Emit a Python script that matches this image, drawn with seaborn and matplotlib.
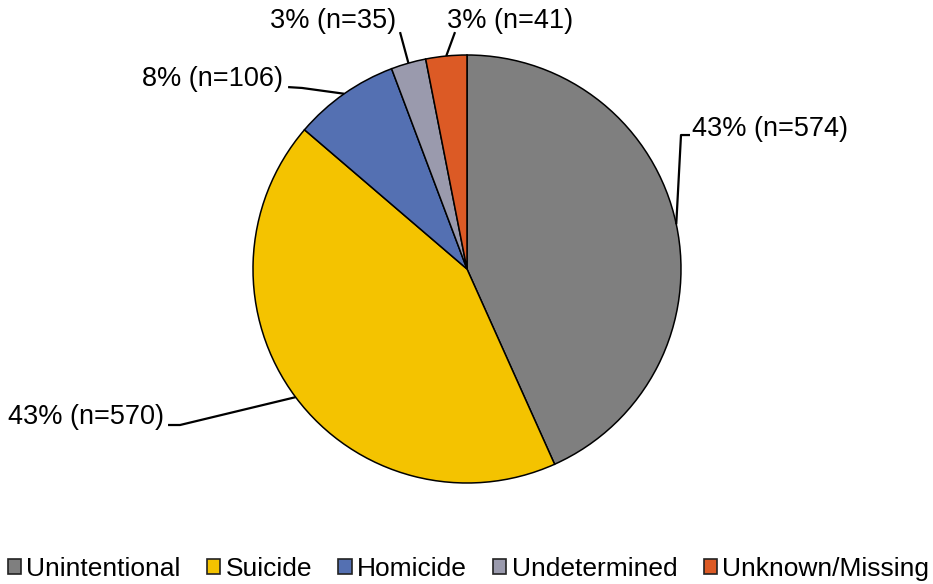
import matplotlib
matplotlib.use('Agg')
import matplotlib.pyplot as plt
from matplotlib.patches import Patch
import numpy as np
import seaborn as sns

categories = ['Unintentional', 'Suicide', 'Homicide', 'Undetermined', 'Unknown/Missing']
counts = [574, 570, 106, 35, 41]
colors = ['#7f7f7f', '#f4c300', '#5470b2', '#9a9aad', '#dc5a25']

sns.set_style('white')
plt.rcParams['font.family'] = ['Liberation Sans', 'DejaVu Sans']
plt.rcParams['text.color'] = 'black'

fig = plt.figure(figsize=(9.33, 5.84), dpi=100)
ax = fig.add_axes([0, 0, 1, 1])
pal = sns.color_palette(colors)

wedges, _ = ax.pie(counts, colors=pal, startangle=90, counterclock=False, radius=1,
                   wedgeprops=dict(edgecolor='black', linewidth=1.1))

# label layout: (knee point, line end, text pos, ha) in radius units
layout = [
    ((1.0, 0.626), (1.042, 0.626), (1.05, 0.655), 'left'),
    ((-1.341, -0.729), (-1.397, -0.729), (-1.415, -0.69), 'right'),
    ((-0.771, 0.846), (-0.836, 0.85), (-0.86, 0.89), 'right'),
    ((-0.313, 1.107), (-0.313, 1.107), (-0.33, 1.16), 'right'),
    ((-0.056, 1.107), (-0.056, 1.107), (-0.093, 1.16), 'left'),
]
total = sum(counts)
for w, v, (knee, end, tpos, ha) in zip(wedges, counts, layout):
    mid = np.deg2rad((w.theta1 + w.theta2) / 2)
    x0, y0 = np.cos(mid), np.sin(mid)
    ax.plot([x0, knee[0], end[0]], [y0, knee[1], end[1]], color='black', lw=1.6,
            solid_capstyle='butt', zorder=3)
    ax.text(tpos[0], tpos[1], f'{v / total * 100:.0f}% (n={v})', ha=ha, va='center',
            fontsize=19.5, color='black')

ax.set_xlim(-467 / 214, (933 - 467) / 214)
ax.set_ylim(-(584 - 269) / 214, 269 / 214)
ax.set_aspect('equal')
ax.axis('off')

handles = [Patch(facecolor=c, edgecolor='#222222', linewidth=1.2) for c in pal]
leg = ax.legend(handles, categories, loc='center', bbox_to_anchor=(0.502, 0.026), ncol=5,
                frameon=False, fontsize=19, handlelength=0.5, handleheight=0.5,
                handletextpad=0.2, columnspacing=1.0, borderaxespad=0)
for t in leg.get_texts():
    t.set_color('black')

fig.savefig('out.png', dpi=100)
